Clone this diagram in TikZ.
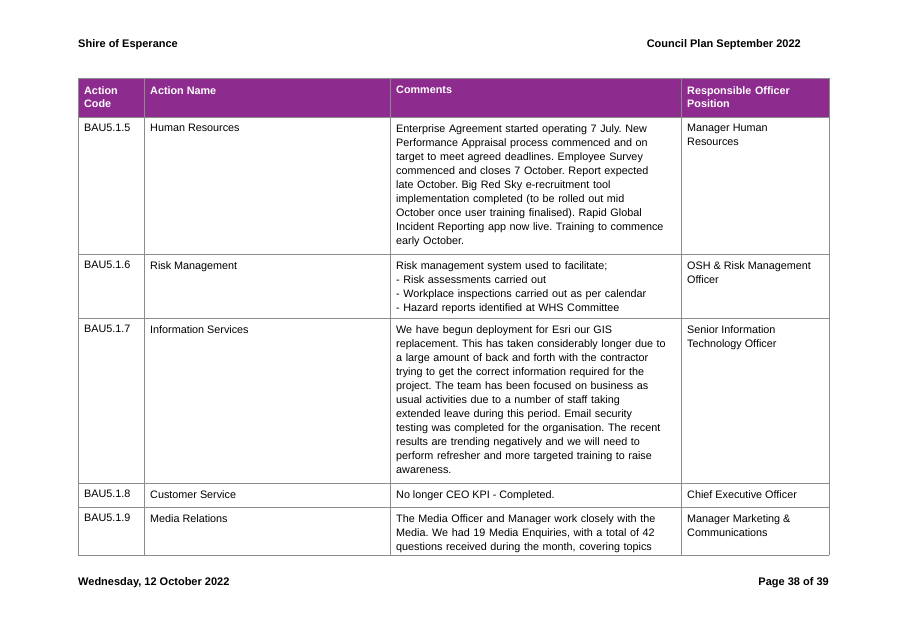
\documentclass[tikz,border=0pt]{standalone}
\usepackage{fontspec}
\setmainfont{Liberation Sans}
\definecolor{hdr}{HTML}{8E2B8E}
\begin{document}
\frenchspacing
\begin{tikzpicture}[x=1pt,y=-1pt,
  cell/.style={anchor=north west,inner sep=0pt,align=left,font=\fontsize{10.8}{14}\selectfont\frenchspacing},
  hcell/.style={cell,text=white,font=\fontsize{10.8}{13.5}\selectfont\bfseries},
  grid/.style={draw=black!45,line width=0.6pt}]
\useasboundingbox (0,0) rectangle (907,641);
\node[anchor=west,inner sep=0,font=\fontsize{11}{12}\selectfont\bfseries] (t1) at (78,45) {Shire of Esperance};
\node[anchor=east,inner sep=0,font=\fontsize{11}{12}\selectfont\bfseries] (t2) at (801,45) {Council Plan September 2022};
\node[anchor=west,inner sep=0,font=\fontsize{11}{12}\selectfont\bfseries] (f1) at (78,583) {Wednesday, 12 October 2022};
\node[anchor=east,inner sep=0,font=\fontsize{11}{12}\selectfont\bfseries] (f2) at (829,583) {Page 38 of 39};
\fill[hdr] (78,78) rectangle (829,117);
\foreach \y in {117,254,318,483,507,555} \draw[grid] (78,\y) -- (829,\y);
\draw[grid] (78,78) -- (829,78);
\foreach \x in {78,144,390,681,829} \draw[grid] (\x,78) -- (\x,555);
\node[hcell,text width=55] (h1) at (84,86) {Action\\Code};
\node[hcell] (h2) at (150,86) {Action Name};
\node[hcell] (h3) at (396,86) {Comments};
\node[hcell,text width=140] (h4) at (687,86) {Responsible Officer\\Position};
% row 1
\node[cell] (a1) at (84,124) {BAU5.1.5};
\node[cell] (b1) at (150,124) {Human Resources};
\node[cell,text width=284] (c1) at (396,124) {Enterprise Agreement started operating 7 July. New\\Performance Appraisal process commenced and on\\target to meet agreed deadlines. Employee Survey\\commenced and closes 7 October. Report expected\\late October. Big Red Sky e-recruitment tool\\implementation completed (to be rolled out mid\\October once user training finalised). Rapid Global\\Incident Reporting app now live. Training to commence\\early October.};
\node[cell] (d1) at (687,124) {Manager Human\\Resources};
% row 2
\node[cell] (a2) at (84,261) {BAU5.1.6};
\node[cell] (b2) at (150,261) {Risk Management};
\node[cell,text width=284] (c2) at (396,261) {Risk management system used to facilitate;\\- Risk assessments carried out\\- Workplace inspections carried out as per calendar\\- Hazard reports identified at WHS Committee};
\node[cell] (d2) at (687,261) {OSH \& Risk Management\\Officer};
% row 3
\node[cell] (a3) at (84,325) {BAU5.1.7};
\node[cell] (b3) at (150,325) {Information Services};
\node[cell,text width=290] (c3) at (396,325) {We have begun deployment for Esri our GIS\\replacement. This has taken considerably longer due to\\a large amount of back and forth with the contractor\\trying to get the correct information required for the\\project. The team has been focused on business as\\usual activities due to a number of staff taking\\extended leave during this period. Email security\\testing was completed for the organisation. The recent\\results are trending negatively and we will need to\\perform refresher and more targeted training to raise\\awareness.};
\node[cell] (d3) at (687,325) {Senior Information\\Technology Officer};
% row 4
\node[cell] (a4) at (84,490) {BAU5.1.8};
\node[cell] (b4) at (150,490) {Customer Service};
\node[cell] (c4) at (396,490) {No longer CEO KPI - Completed.};
\node[cell] (d4) at (687,490) {Chief Executive Officer};
% row 5
\node[cell] (a5) at (84,514) {BAU5.1.9};
\node[cell] (b5) at (150,514) {Media Relations};
\node[cell,text width=284] (c5) at (396,514) {The Media Officer and Manager work closely with the\\Media. We had 19 Media Enquiries, with a total of 42\\questions received during the month, covering topics};
\node[cell] (d5) at (687,514) {Manager Marketing \&\\Communications};
\end{tikzpicture}
\end{document}
